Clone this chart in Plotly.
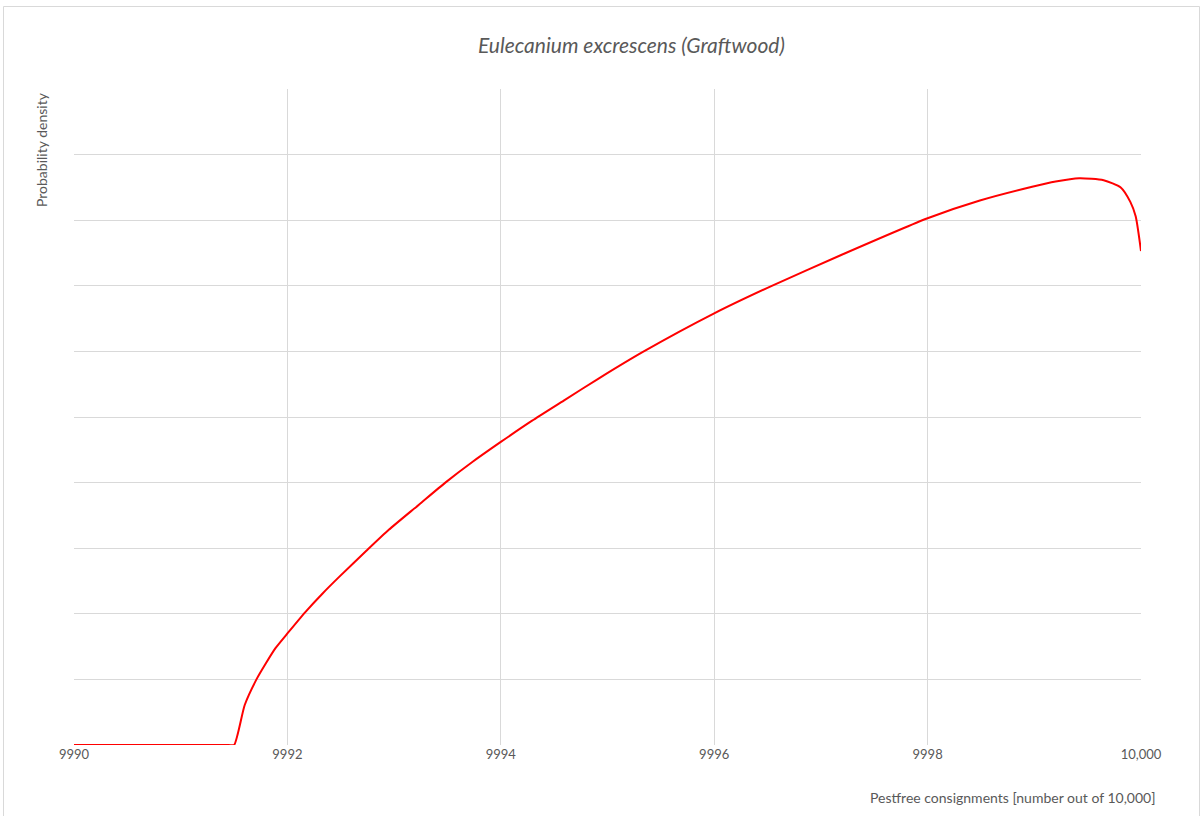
import plotly.graph_objects as go

# Data
pestfree = [9990, 9991.0, 9991.45, 9991.5, 9991.6, 9991.71, 9991.8, 9991.89, 9992.0, 9992.17,
            9992.33, 9992.49, 9992.74, 9992.95, 9993.23, 9993.48, 9993.73, 9994.0, 9994.29,
            9994.59, 9994.92, 9995.34, 9996.0, 9996.54, 9997.19, 9998.0, 9998.49,
            9998.98, 9999.2, 9999.42, 9999.65, 9999.81, 9999.9, 9999.95, 10000]
density = [0, 0, 0, 0, 0.61, 1.0, 1.25, 1.48, 1.70, 2.03,
           2.31, 2.57, 2.96, 3.28, 3.66, 4.0, 4.31, 4.62, 4.94,
           5.25, 5.59, 6.0, 6.58, 7.0, 7.47, 8.03, 8.30,
           8.51, 8.59, 8.64, 8.61, 8.50, 8.28, 8.06, 7.53]

tick_vals = [9990, 9992, 9994, 9996, 9998, 10000]
tick_text = ["9990", "9992", "9994", "9996", "9998", "10,000"]

W, H = 1203, 816
L, R, T, B = 74, 62, 89, 71
FONT = "Lato"
GREY = "#595959"
PW, PH = W - L - R, H - T - B

fig = go.Figure()
fig.add_trace(go.Scatter(x=pestfree, y=density, mode="lines",
                         line=dict(color="#FF0000", width=2, shape="spline", smoothing=0.6),
                         hoverinfo="x+y"))

fig.update_layout(
    width=W, height=H,
    margin=dict(l=L, r=R, t=T, b=B),
    paper_bgcolor="white", plot_bgcolor="white",
    showlegend=False,
    font=dict(family=FONT, color=GREY, size=13),
    xaxis=dict(range=[9990, 10000], tickvals=tick_vals, ticktext=tick_text,
               showgrid=True, gridcolor="#d9d9d9", gridwidth=1,
               zeroline=False, showline=False, ticks="", ticklen=0,
               tickfont=dict(family=FONT, size=13, color=GREY)),
    yaxis=dict(range=[0, 10], dtick=1, showticklabels=False,
               showgrid=True, gridcolor="#d9d9d9", gridwidth=1,
               zeroline=False, showline=False, ticks=""),
)

fig.add_annotation(text="<i>Eulecanium excrescens (Graftwood)</i>",
                   xref="paper", yref="paper", showarrow=False,
                   x=(631 - L) / PW, y=1 + (T - 45) / PH,
                   xanchor="center", yanchor="middle",
                   font=dict(family=FONT, size=21, color=GREY))
fig.add_annotation(text="Probability density", textangle=-90,
                   xref="paper", yref="paper", showarrow=False,
                   x=(41 - L) / PW, y=1 - (150 - T) / PH,
                   xanchor="center", yanchor="middle",
                   font=dict(family=FONT, size=14, color=GREY))
fig.add_annotation(text="Pestfree consignments [number out of 10,000]",
                   xref="paper", yref="paper", showarrow=False,
                   x=(1157 - L) / PW, y=-(797 - (H - B)) / PH,
                   xanchor="right", yanchor="middle",
                   font=dict(family=FONT, size=14, color=GREY))

# light outer chart border
fig.add_shape(type="rect", xref="paper", yref="paper", layer="below",
              x0=(3.5 - L) / PW, x1=(1199.5 - L) / PW,
              y0=-(820 - (H - B)) / PH, y1=1 + (T - 6.5) / PH,
              line=dict(color="#d9d9d9", width=1), fillcolor="rgba(0,0,0,0)")

fig.write_html("out.html", config={"displayModeBar": False},
               post_script="document.body.style.margin='0';document.body.style.overflow='hidden';")
